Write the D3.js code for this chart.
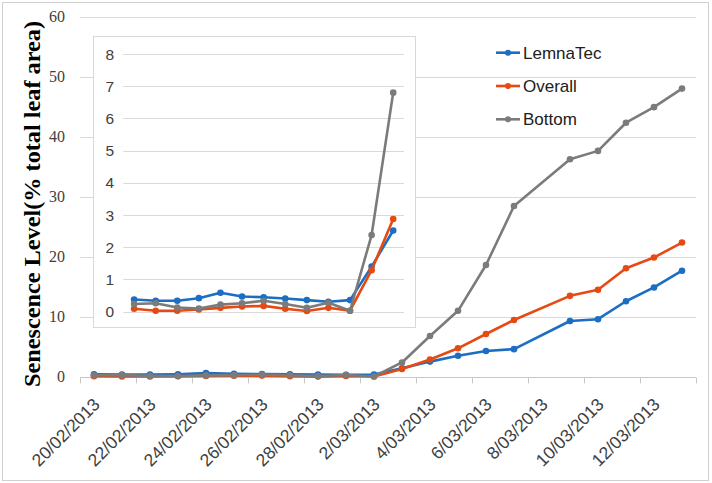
<!DOCTYPE html>
<html>
<head>
<meta charset="utf-8">
<script src="https://cdn.jsdelivr.net/npm/d3@7"></script>
<style>
  html, body { margin: 0; padding: 0; background: #fff; }
  svg { display: block; }
</style>
</head>
<body>
<svg id="chart" width="712" height="483"></svg>
<script>
// ---- data ----
const dates = [
  "20/02/2013","21/02/2013","22/02/2013","23/02/2013","24/02/2013","25/02/2013",
  "26/02/2013","27/02/2013","28/02/2013","1/03/2013","2/03/2013","3/03/2013",
  "4/03/2013","5/03/2013","6/03/2013","7/03/2013","9/03/2013","10/03/2013",
  "11/03/2013","12/03/2013","13/03/2013"
];
const lemnaTec = [0.38,0.34,0.34,0.42,0.59,0.47,0.45,0.41,0.36,0.31,0.36,1.40,2.52,3.5,4.3,4.6,9.3,9.6,12.6,14.9,17.7];
const overall  = [0.09,0.03,0.03,0.07,0.12,0.16,0.18,0.09,0.02,0.12,0.03,1.29,2.88,4.74,7.13,9.47,13.5,14.5,18.1,19.9,22.4];
const bottom   = [0.24,0.26,0.13,0.10,0.22,0.26,0.34,0.24,0.12,0.28,0.03,2.38,6.80,11.0,18.65,28.5,36.3,37.7,42.4,45.0,48.1];
const seriesNames = ["LemnaTec","Overall","Bottom"];
const xTickLabels = ["20/02/2013","22/02/2013","24/02/2013","26/02/2013","28/02/2013","2/03/2013",
                     "4/03/2013","6/03/2013","8/03/2013","10/03/2013","12/03/2013"];
const yTicks = [0,10,20,30,40,50,60];
const insetYTicks = [0,1,2,3,4,5,6,7,8];
const insetCount = 13; // first 13 dates shown in the inset

const colors = ["#1b6ec2","#e64a14","#7b7b7b"];
const seriesData = [lemnaTec, overall, bottom];

const parse = d3.utcParse("%d/%m/%Y");
const DAY = 864e5, HALF = DAY/2;

const svg = d3.select("#chart");

// outer border
svg.append("rect").attr("x",2.5).attr("y",2.5).attr("width",706).attr("height",478)
  .attr("fill","#fff").attr("stroke","#d0d0d0").attr("stroke-width",1);

// ---- main chart ----
const xStart = parse(xTickLabels[0]).getTime() - HALF;
const xEnd = parse(dates[dates.length-1]).getTime() + HALF;
const x = d3.scaleUtc().domain([xStart, xEnd]).range([80, 696]);
const y = d3.scaleLinear().domain([0, 60]).range([376.7, 17.3]);

const main = svg.append("g");

// gridlines
main.append("g").selectAll("line").data(yTicks.filter(t => t > 0)).join("line")
  .attr("x1", 80).attr("x2", 696)
  .attr("y1", d => Math.round(y(d)) + 0.5).attr("y2", d => Math.round(y(d)) + 0.5)
  .attr("stroke", "#d9d9d9").attr("stroke-width", 1);

// y tick labels
main.append("g").selectAll("text").data(yTicks).join("text")
  .attr("x", 65).attr("y", d => y(d) + 5)
  .attr("text-anchor", "end")
  .attr("font-family", "'Liberation Serif', 'Times New Roman', serif")
  .attr("font-size", 16).attr("fill", "#404040")
  .text(d => d);

// x axis line + ticks
const y0 = Math.round(y(0)) + 0.5;
main.append("line").attr("x1", 80).attr("x2", 696).attr("y1", y0).attr("y2", y0)
  .attr("stroke", "#c8c8c8").attr("stroke-width", 1);
const tickPos = xTickLabels.map(s => parse(s).getTime() - HALF).concat([xEnd]);
main.append("g").selectAll("line").data(tickPos).join("line")
  .attr("x1", d => Math.round(x(d)) + 0.5).attr("x2", d => Math.round(x(d)) + 0.5)
  .attr("y1", y0).attr("y2", y0 + 6)
  .attr("stroke", "#c8c8c8").attr("stroke-width", 1);

// x tick labels
main.append("g").selectAll("text").data(xTickLabels).join("text")
  .attr("transform", d => `translate(${x(parse(d).getTime()) + 7},${y0 + 28}) rotate(-45)`)
  .attr("text-anchor", "end")
  .attr("font-family", "'Liberation Sans', Arial, sans-serif")
  .attr("font-size", 17.5).attr("fill", "#404040")
  .text(d => d);

// y axis title
svg.append("text")
  .attr("transform", "translate(40,204) rotate(-90)")
  .attr("text-anchor", "middle")
  .attr("font-family", "'Liberation Serif', 'Times New Roman', serif")
  .attr("font-weight", "bold").attr("font-size", 24).attr("fill", "#000")
  .attr("textLength", 366).attr("lengthAdjust", "spacingAndGlyphs")
  .text("Senescence Level(% total leaf area)");

// series
const lineMain = d3.line().x(d => x(d[0])).y(d => y(d[1]));
seriesData.forEach((vals, si) => {
  const pts = vals.map((v, i) => [parse(dates[i]).getTime(), v]);
  const g = main.append("g");
  g.append("path").attr("d", lineMain(pts)).attr("fill", "none")
    .attr("stroke", colors[si]).attr("stroke-width", 2.6).attr("stroke-linejoin", "round");
  g.selectAll("circle").data(pts).join("circle")
    .attr("cx", d => x(d[0])).attr("cy", d => y(d[1])).attr("r", 3.3)
    .attr("fill", colors[si]);
});

// legend
const leg = svg.append("g");
seriesNames.forEach((name, i) => {
  const ly = 52.7 + i * 33.3;
  leg.append("line").attr("x1", 496).attr("x2", 520).attr("y1", ly).attr("y2", ly)
    .attr("stroke", colors[i]).attr("stroke-width", 2.6);
  leg.append("circle").attr("cx", 508).attr("cy", ly).attr("r", 3).attr("fill", colors[i]);
  leg.append("text").attr("x", 523).attr("y", ly + 6)
    .attr("font-family", "'Liberation Sans', Arial, sans-serif")
    .attr("font-size", 17).attr("fill", "#202020").text(name);
});

// ---- inset chart ----
const inset = svg.append("g");
inset.append("rect").attr("x", 93.5).attr("y", 36.5).attr("width", 322).attr("height", 291)
  .attr("fill", "#fff").attr("stroke", "#d9d9d9").attr("stroke-width", 1);

const insetDates = dates.slice(0, insetCount);
const xi = d3.scaleBand().domain(insetDates).range([123.3, 404]);
const yi = d3.scaleLinear().domain([0, 8]).range([311.7, 54]);

inset.append("g").selectAll("line").data(insetYTicks).join("line")
  .attr("x1", 123.3).attr("x2", 404)
  .attr("y1", d => Math.round(yi(d)) + 0.5).attr("y2", d => Math.round(yi(d)) + 0.5)
  .attr("stroke", "#d9d9d9").attr("stroke-width", 1);

inset.append("g").selectAll("text").data(insetYTicks).join("text")
  .attr("x", 114).attr("y", d => yi(d) + 5.5)
  .attr("text-anchor", "end")
  .attr("font-family", "'Liberation Sans', Arial, sans-serif")
  .attr("font-size", 15.5).attr("fill", "#404040")
  .text(d => d);

const lineInset = d3.line().x(d => xi(d[0]) + xi.bandwidth() / 2).y(d => yi(d[1]));
seriesData.forEach((vals, si) => {
  const pts = insetDates.map((dt, i) => [dt, vals[i]]);
  const g = inset.append("g");
  g.append("path").attr("d", lineInset(pts)).attr("fill", "none")
    .attr("stroke", colors[si]).attr("stroke-width", 2.6).attr("stroke-linejoin", "round");
  g.selectAll("circle").data(pts).join("circle")
    .attr("cx", d => xi(d[0]) + xi.bandwidth() / 2).attr("cy", d => yi(d[1])).attr("r", 3.3)
    .attr("fill", colors[si]);
});
</script>
</body>
</html>
